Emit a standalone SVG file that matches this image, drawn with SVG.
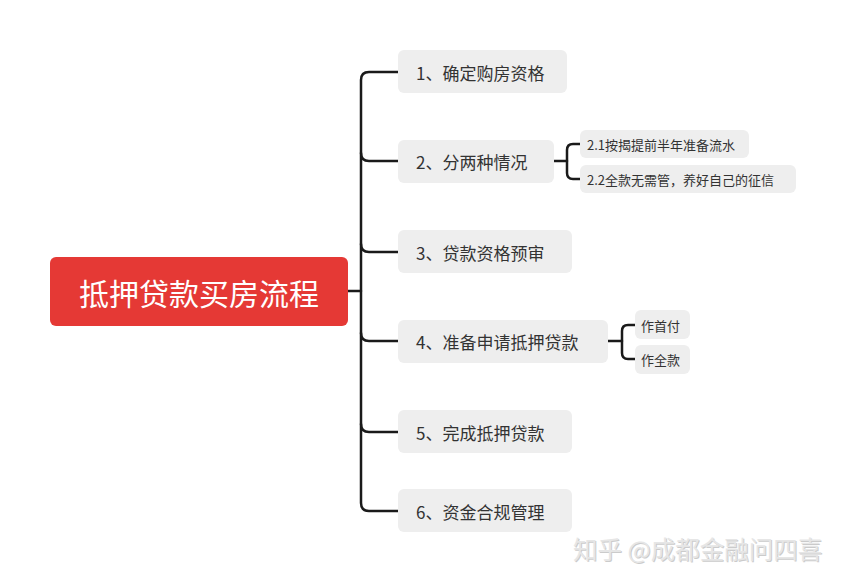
<svg xmlns="http://www.w3.org/2000/svg" width="846" height="583" viewBox="0 0 846 583">
<style>
.node rect{fill:#eeeeee}
.t{font-family:"Noto Sans CJK SC","Noto Sans",sans-serif;fill:#333333;dominant-baseline:central}
.m{font-size:17px}
.s{font-size:13px}
.c{fill:none;stroke:#1a1a1a;stroke-width:2.5;stroke-linecap:round}
</style>
<rect width="846" height="583" fill="#ffffff"/>
<g id="connectors">
<path class="c" d="M348 291 H361"/>
<path class="c" d="M398 72 H369 Q361 72 361 80 V503 Q361 511 369 511 H398"/>
<path class="c" d="M361 153 Q361 161 369 161 H398"/>
<path class="c" d="M361 244 Q361 252 369 252 H398"/>
<path class="c" d="M361 333 Q361 341 369 341 H398"/>
<path class="c" d="M361 424 Q361 432 369 432 H398"/>
<path class="c" d="M554 161 H567"/>
<path class="c" d="M580 144 H573 Q567 144 567 150 V173 Q567 179 573 179 H580"/>
<path class="c" d="M608 341 H622"/>
<path class="c" d="M635 325 H628 Q622 325 622 331 V353 Q622 359 628 359 H635"/>
</g>
<g id="root"><rect x="50" y="257" width="298" height="69" rx="6" fill="#e53935"/><text x="199" y="291.5" text-anchor="middle" font-family="Noto Sans CJK SC,sans-serif" font-size="30" fill="#ffffff" dominant-baseline="central">抵押贷款买房流程</text></g>
<g id="n1" class="node"><rect x="398" y="50" width="169" height="43" rx="6"/><text class="t m" x="416" y="72">1、确定购房资格</text></g>
<g id="n2" class="node"><rect x="398" y="140" width="156" height="43" rx="6"/><text class="t m" x="416" y="161">2、分两种情况</text></g>
<g id="n21" class="node"><rect x="580" y="130" width="169" height="28" rx="6"/><text class="t s" x="587" y="144">2.1按揭提前半年准备流水</text></g>
<g id="n22" class="node"><rect x="580" y="165" width="216" height="28" rx="6"/><text class="t s" x="587" y="179">2.2全款无需管，养好自己的征信</text></g>
<g id="n3" class="node"><rect x="398" y="230" width="174" height="43" rx="6"/><text class="t m" x="416" y="252">3、贷款资格预审</text></g>
<g id="n4" class="node"><rect x="398" y="320" width="210" height="43" rx="6"/><text class="t m" x="416" y="341">4、准备申请抵押贷款</text></g>
<g id="n41" class="node"><rect x="635" y="310" width="55" height="29" rx="6"/><text class="t s" x="641" y="325">作首付</text></g>
<g id="n42" class="node"><rect x="635" y="345" width="55" height="29" rx="6"/><text class="t s" x="641" y="359">作全款</text></g>
<g id="n5" class="node"><rect x="398" y="410" width="174" height="43" rx="6"/><text class="t m" x="416" y="432">5、完成抵押贷款</text></g>
<g id="n6" class="node"><rect x="398" y="489" width="174" height="43" rx="6"/><text class="t m" x="416" y="511">6、资金合规管理</text></g>
<g id="watermark"><text x="574" y="549" font-family="Noto Sans CJK SC,sans-serif" font-size="24.5" fill="#999999" opacity="0.5" dominant-baseline="central">知乎 @成都金融问四喜</text><text x="573" y="548" font-family="Noto Sans CJK SC,sans-serif" font-size="24.5" fill="#e6e6e6" dominant-baseline="central">知乎 @成都金融问四喜</text></g>
</svg>
